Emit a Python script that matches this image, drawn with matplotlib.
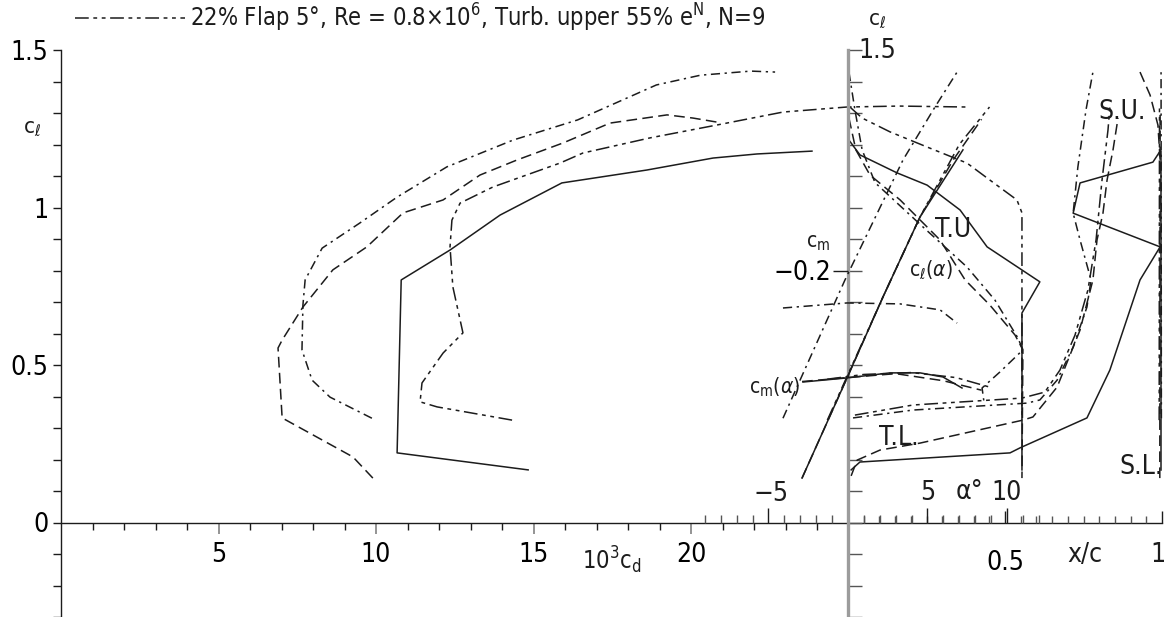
import matplotlib
matplotlib.use('Agg')
import matplotlib.pyplot as plt
import numpy as np

plt.rcParams['font.family'] = ['DejaVu Sans']
plt.rcParams['font.stretch'] = 'condensed'
plt.rcParams['mathtext.fontset'] = 'dejavusans'

W, H = 1175, 617
INK = '#1c1c1c'
LW = 1.1

# ---------------- data: drag polars (10^3 cd, cl) ----------------
cd_solid = [14.83, 10.67, 10.80, 12.35, 13.94, 15.90, 18.60, 20.70, 22.10, 23.84]
cl_solid = [0.167, 0.221, 0.770, 0.865, 0.976, 1.078, 1.119, 1.157, 1.170, 1.179]

cd_dashdot = [9.87, 8.54, 7.97, 7.65, 7.68, 7.75, 8.29, 9.49, 10.67, 12.25, 14.35,
              16.40, 18.90, 20.30, 21.90, 22.67]
cl_dashdot = [0.331, 0.398, 0.452, 0.548, 0.690, 0.770, 0.871, 0.951, 1.033, 1.129, 1.214,
              1.278, 1.389, 1.420, 1.433, 1.430]

cd_dashed = [9.90, 9.27, 7.02, 6.89, 7.02, 7.68, 8.63, 9.71, 10.86, 12.13, 13.30, 14.48,
             15.94, 17.43, 19.24, 20.06, 20.83]
cl_dashed = [0.141, 0.208, 0.332, 0.554, 0.579, 0.684, 0.802, 0.875, 0.983, 1.024, 1.103,
             1.151, 1.205, 1.268, 1.294, 1.284, 1.271]

cd_flap = [14.32, 11.94, 11.40, 11.46, 12.13, 12.76, 12.44, 12.35, 12.41, 12.67, 13.71,
           15.84, 16.57, 18.70, 20.83, 22.92, 24.95, 26.60, 28.76]
cl_flap = [0.325, 0.367, 0.383, 0.443, 0.538, 0.602, 0.748, 0.875, 0.960, 1.014, 1.065,
           1.141, 1.173, 1.221, 1.262, 1.303, 1.319, 1.322, 1.319]

# ---------------- data: lift and moment vs alpha ----------------
al_solid = [-2.89, -0.06, 2.20, 4.53, 7.23]
cla_solid = [0.141, 0.459, 0.716, 0.970, 1.183]
al_dashdot = [-4.09, -0.19, 3.46, 5.47, 6.86]
cla_dashdot = [0.331, 0.770, 1.151, 1.319, 1.430]
al_dashed = [-2.89, -0.06, 2.20, 4.53, 6.60, 8.40]
cla_dashed = [0.141, 0.459, 0.716, 0.970, 1.150, 1.280]
al_flap = [-1.30, 2.20, 4.53, 7.00, 8.90]
cla_flap = [0.325, 0.716, 0.970, 1.200, 1.319]

alm_solid = [-2.83, -0.06, 2.64, 4.53, 5.97, 7.17]
cm_solid = [-0.2708, -0.2682, -0.2650, -0.2650, -0.2676, -0.2746]
alm_dashdot = [-4.09, -0.06, 3.27, 5.79, 6.86]
cm_dashdot = [-0.2238, -0.2206, -0.2212, -0.2250, -0.2334]
alm_dashed = [-2.89, -0.06, 3.0, 6.0, 8.4]
cm_dashed = [-0.2705, -0.2680, -0.2655, -0.2700, -0.2760]
alm_flap = [-1.3, 1.0, 4.0, 6.8, 8.9]
cm_flap = [-0.2690, -0.2660, -0.2648, -0.2680, -0.2740]

# ---------------- data: transition / separation (x/c, cl) ----------------
tu_x_solid = [0.003, 0.038, 0.156, 0.252, 0.357, 0.443, 0.611, 0.554, 0.554]
tu_c_solid = [1.214, 1.167, 1.110, 1.071, 0.992, 0.875, 0.764, 0.665, 0.167]
tu_x_dashdot = [0.003, 0.022, 0.045, 0.086, 0.239, 0.379, 0.468, 0.541, 0.557, 0.484, 0.427, 0.433]
tu_c_dashdot = [1.430, 1.310, 1.183, 1.079, 0.938, 0.811, 0.706, 0.586, 0.548, 0.478, 0.427, 0.383]
tu_x_flap = [0.006, 0.045, 0.134, 0.252, 0.379, 0.452, 0.538, 0.554, 0.554]
tu_c_flap = [1.319, 1.284, 1.240, 1.192, 1.141, 1.087, 1.024, 0.983, 0.325]
tu_x_dashed = [0.003, 0.025, 0.070, 0.166, 0.293, 0.373, 0.452, 0.532, 0.557, 0.554]
tu_c_dashed = [1.284, 1.183, 1.103, 1.024, 0.897, 0.770, 0.690, 0.595, 0.548, 0.141]

tl_x_solid = [0.010, 0.038, 0.516, 0.548, 0.761, 0.834, 0.930, 0.994, 0.717, 0.739, 0.971, 0.994]
tl_c_solid = [0.167, 0.192, 0.221, 0.237, 0.332, 0.484, 0.770, 0.875, 0.982, 1.078, 1.144, 1.179]
tl_x_dashed = [0.010, 0.029, 0.102, 0.229, 0.557, 0.589, 0.666, 0.739, 0.780, 0.793, 0.812,
               0.825, 0.844, 0.860]
tl_c_dashed = [0.148, 0.198, 0.230, 0.252, 0.325, 0.335, 0.430, 0.611, 0.770, 0.897, 0.982,
               1.087, 1.183, 1.284]
tl_x_dashdot = [0.016, 0.207, 0.570, 0.611, 0.666, 0.717, 0.761, 0.774, 0.739, 0.717, 0.732,
                0.758, 0.780]
tl_c_dashdot = [0.332, 0.357, 0.379, 0.389, 0.452, 0.557, 0.684, 0.770, 0.897, 0.982, 1.128,
                1.310, 1.430]
tl_x_flap = [0.022, 0.207, 0.554, 0.627, 0.675, 0.723, 0.764, 0.790, 0.809, 0.828, 0.834]
tl_c_flap = [0.341, 0.373, 0.395, 0.414, 0.484, 0.595, 0.738, 0.897, 1.087, 1.246, 1.319]

su_x_dashed = [0.930, 0.962, 0.987, 0.994]
su_c_dashed = [1.430, 1.357, 1.262, 1.151]

sl_x_solid = [0.996, 0.996]
sl_c_solid = [0.167, 1.180]
sl_x_dashed = [0.993, 0.994]
sl_c_dashed = [0.141, 1.294]
sl_x_dashdot = [0.998, 0.997]
sl_c_dashdot = [0.331, 1.430]
sl_x_flap = [0.991, 0.992]
sl_c_flap = [0.325, 1.319]

# ---------------- figure ----------------
fig = plt.figure(figsize=(W / 100, H / 100), dpi=100)


def fx(px):
    return px / W


def fy(py):
    return 1 - py / H


rect = [fx(61), 0, fx(1162) - fx(61), fy(50)]
CL_LIM = (-0.3, 1.5)

ST = {
    'solid': dict(ls='-'),
    'dashed': dict(ls=(0, (7, 3.5))),
    'dashdot': dict(ls=(0, (6, 3, 1.5, 3))),
    'flap': dict(ls=(0, (9, 3, 2.5, 3, 2.5, 3))),
}

# polar axes
axp = fig.add_axes(rect)
axp.set_xlim(0, (1162 - 61) / 31.5)
axp.set_ylim(*CL_LIM)
axp.patch.set_alpha(0)
for s in ('top', 'right'):
    axp.spines[s].set_visible(False)
axp.spines['left'].set_position(('data', 0))
axp.spines['bottom'].set_position(('data', 0))
axp.spines['left'].set_bounds(-0.3, 1.5)
for s in ('left', 'bottom'):
    axp.spines[s].set_color(INK)
    axp.spines[s].set_linewidth(1.0)
axp.set_xticks([5, 10, 15, 20])
axp.set_xticklabels(['5', '10', '15', '20'])
axp.set_xticks([v for v in range(1, 25) if v % 5], minor=True)
axp.set_yticks([0, 0.5, 1.0, 1.5])
axp.set_yticklabels(['0', '0.5', '1', '1.5'])
axp.set_yticks([v / 10 for v in range(-3, 15) if v % 5], minor=True)
axp.tick_params(axis='x', which='major', direction='out', length=8, width=1.1,
                color='#777777', labelsize=19, pad=6)
axp.tick_params(axis='x', which='minor', direction='out', length=5, width=1.0, color=INK)
axp.tick_params(axis='y', which='both', direction='out', length=6, width=1.0,
                color=INK, labelsize=19, pad=3)

for x, y, k in [(cd_solid, cl_solid, 'solid'), (cd_dashdot, cl_dashdot, 'dashdot'),
                (cd_dashed, cl_dashed, 'dashed'), (cd_flap, cl_flap, 'flap')]:
    axp.plot(x, y, color=INK, lw=LW, clip_on=False, **ST[k])

# x/c axes
axx = fig.add_axes([fx(848), 0, fx(1162) - fx(848), fy(50)])
axx.set_xlim(0, 1)
axx.set_ylim(*CL_LIM)
axx.patch.set_alpha(0)
for s in ('top', 'right', 'bottom'):
    axx.spines[s].set_visible(False)
axx.spines['bottom'].set_position(('data', 0))
axx.spines['left'].set_color('#9c9c9c')
axx.spines['left'].set_linewidth(2.4)
axx.set_xticks([0.5, 1.0])
axx.set_xticklabels(['0.5', ''])
axx.set_xticks([v / 20 for v in range(1, 20) if v != 10], minor=True)
axx.tick_params(axis='x', which='major', direction='in', length=9, width=1.0,
                color=INK, labelsize=19, pad=20)
axx.tick_params(axis='x', which='minor', direction='in', length=5, width=1.0, color='#555555')
axx.set_yticks([v / 10 for v in range(-3, 16)])
axx.tick_params(axis='y', which='major', direction='in', length=10, width=1.0,
                color='#555555', labelleft=False)

xc_curves = [
    (tu_x_solid, tu_c_solid, 'solid'), (tu_x_dashdot, tu_c_dashdot, 'dashdot'),
    (tu_x_flap, tu_c_flap, 'flap'), (tu_x_dashed, tu_c_dashed, 'dashed'),
    (tl_x_solid, tl_c_solid, 'solid'), (tl_x_dashed, tl_c_dashed, 'dashed'),
    (tl_x_dashdot, tl_c_dashdot, 'dashdot'), (tl_x_flap, tl_c_flap, 'flap'),
    (su_x_dashed, su_c_dashed, 'dashed'),
    (sl_x_solid, sl_c_solid, 'solid'), (sl_x_dashed, sl_c_dashed, 'dashed'),
    (sl_x_dashdot, sl_c_dashdot, 'dashdot'), (sl_x_flap, sl_c_flap, 'flap'),
]
for x, y, k in xc_curves:
    axx.plot(x, y, color=INK, lw=LW, clip_on=False, **ST[k])

# alpha axes (cl vs alpha)
axa = fig.add_axes(rect)
axa.set_xlim((61 - 848) / 15.9, (1162 - 848) / 15.9)
axa.set_ylim(*CL_LIM)
axa.patch.set_alpha(0)
for s in ('top', 'right', 'left', 'bottom'):
    axa.spines[s].set_visible(False)
axa.spines['bottom'].set_position(('data', 0))
axa.set_yticks([])
axa.set_xticks([-5, 5, 10])
axa.set_xticklabels([])
axa.set_xticks([v for v in range(-9, 13) if v % 5], minor=True)
axa.tick_params(axis='x', which='major', direction='in', length=11, width=1.0, color=INK)
axa.tick_params(axis='x', which='minor', direction='in', length=6, width=1.0, color='#555555')
for x, y, k in [(al_solid, cla_solid, 'solid'), (al_dashdot, cla_dashdot, 'dashdot'),
                (al_dashed, cla_dashed, 'dashed'), (al_flap, cla_flap, 'flap')]:
    axa.plot(x, y, color=INK, lw=LW, clip_on=False, **ST[k])

# cm axes: pos = 0.8 + 5 (cm + 0.2)
axm = axa.twinx()
axm.set_ylim((CL_LIM[0] - 0.8) / 5 - 0.2, (CL_LIM[1] - 0.8) / 5 - 0.2)
for s in ('top', 'right', 'left', 'bottom'):
    axm.spines[s].set_visible(False)
axm.yaxis.set_ticks_position('left')
axm.spines['left'].set_position(('data', 0))
axm.set_yticks([-0.2])
axm.set_yticklabels(['\u22120.2'])
axm.tick_params(axis='y', direction='out', length=11, width=1.0, color=INK,
                labelsize=19, pad=1)
for x, y, k in [(alm_solid, cm_solid, 'solid'), (alm_dashdot, cm_dashdot, 'dashdot'),
                (alm_dashed, cm_dashed, 'dashed'), (alm_flap, cm_flap, 'flap')]:
    axm.plot(x, y, color=INK, lw=LW, clip_on=False, **ST[k])

# ---------------- texts ----------------
def T(px, py, s, size=19, ha='center', va='center'):
    fig.text(fx(px), fy(py), s, fontsize=size, ha=ha, va=va, color=INK)


T(32, 128, r'c$_\ell$', 16)
T(877, 20, r'c$_\ell$', 16)
T(858, 51, '1.5', 19, ha='left')
T(612, 560, r'10$^3$c$_\mathrm{d}$', 17)
T(771, 494, '\u22125', 19)
T(928, 493, '5', 19)
T(969, 492, '\u03b1\u00b0', 19)
T(1007, 493, '10', 19)
T(1085, 555, 'x/c', 19)
T(1158, 555, '1', 19)
T(818, 243, r'c$_\mathrm{m}$', 15)
T(931, 270, r'c$_\ell$($\alpha$)', 15)
T(775, 387, r'c$_\mathrm{m}$($\alpha$)', 15)
T(953, 230, 'T.U', 19)
T(899, 438, 'T.L.', 19)
T(1122, 112, 'S.U.', 19)
T(1141, 467, 'S.L.', 19)

# legend line (top)
leg = plt.Line2D([fx(75), fx(185)], [fy(18), fy(18)], transform=fig.transFigure,
                 color=INK, lw=LW, **ST['flap'])
fig.add_artist(leg)
T(190, 18, '22% Flap 5\u00b0, Re = 0.8\u00d710$^6$, Turb. upper 55% e$^\\mathrm{N}$, N=9',
  17, ha='left')

fig.savefig('out.png', dpi=100)
